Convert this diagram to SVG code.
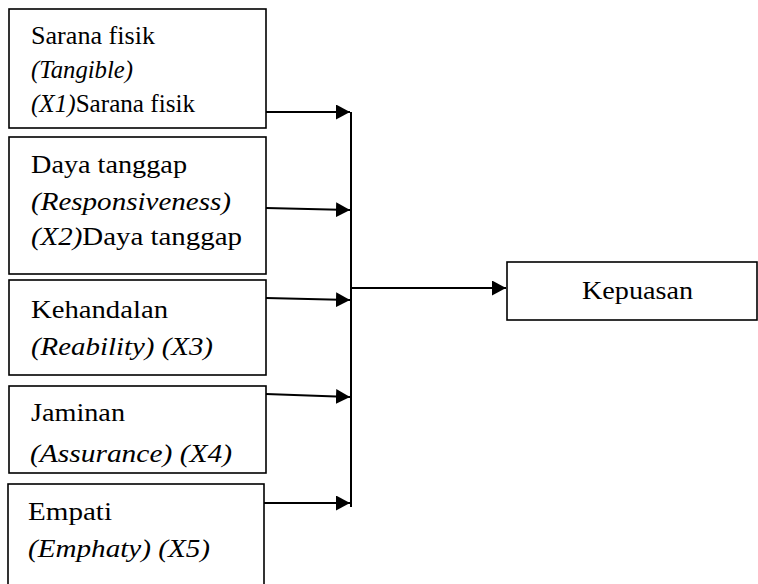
<svg xmlns="http://www.w3.org/2000/svg" width="758" height="584" viewBox="0 0 758 584">
<style>
.box{fill:#fff;stroke:#000;stroke-width:1.6}
text{font-size:25px;fill:#000}
.i{font-style:italic}
.c{stroke:#000;stroke-width:2;fill:none}
</style>
<defs>
<marker id="ah" markerWidth="14" markerHeight="15" refX="14" refY="7.5" orient="auto" markerUnits="userSpaceOnUse">
<path d="M0,0 L14,7.5 L0,15 Z" fill="#000"/>
</marker>
</defs>
<rect width="758" height="584" fill="#fff"/>
<g font-family="Liberation Serif, Times New Roman, serif">
<g id="x1">
<rect class="box" x="9" y="9" width="257" height="119"/>
<text x="31" y="44" textLength="124" lengthAdjust="spacingAndGlyphs">Sarana fisik</text>
<text class="i" x="31" y="78" textLength="102" lengthAdjust="spacingAndGlyphs">(Tangible)</text>
<text x="31" y="112" textLength="164" lengthAdjust="spacingAndGlyphs"><tspan class="i">(X1)</tspan>Sarana fisik</text>
</g>
<g id="x2">
<rect class="box" x="9" y="137" width="257" height="137"/>
<text x="31" y="173" textLength="156" lengthAdjust="spacingAndGlyphs">Daya tanggap</text>
<text class="i" x="31" y="210" textLength="200" lengthAdjust="spacingAndGlyphs">(Responsiveness)</text>
<text x="31" y="245" textLength="211" lengthAdjust="spacingAndGlyphs"><tspan class="i">(X2)</tspan>Daya tanggap</text>
</g>
<g id="x3">
<rect class="box" x="9" y="280" width="257" height="95"/>
<text x="31" y="318" textLength="137" lengthAdjust="spacingAndGlyphs">Kehandalan</text>
<text class="i" x="31" y="355" textLength="182" lengthAdjust="spacingAndGlyphs">(Reability) (X3)</text>
</g>
<g id="x4">
<rect class="box" x="9" y="386" width="257" height="87"/>
<text x="31" y="421" textLength="94" lengthAdjust="spacingAndGlyphs">Jaminan</text>
<text class="i" x="30" y="462" textLength="202" lengthAdjust="spacingAndGlyphs">(Assurance) (X4)</text>
</g>
<g id="x5">
<rect class="box" x="8" y="484" width="256" height="110"/>
<text x="28" y="520" textLength="84" lengthAdjust="spacingAndGlyphs">Empati</text>
<text class="i" x="28" y="557" textLength="182" lengthAdjust="spacingAndGlyphs">(Emphaty) (X5)</text>
</g>
<g id="y">
<rect class="box" x="507" y="262" width="250" height="58"/>
<text x="582" y="299" textLength="111" lengthAdjust="spacingAndGlyphs">Kepuasan</text>
</g>
</g>
<g id="connectors">
<line class="c" x1="351" y1="112" x2="351" y2="507"/>
<line class="c" x1="266" y1="112" x2="350" y2="112" marker-end="url(#ah)"/>
<line class="c" x1="266" y1="208" x2="350" y2="210" marker-end="url(#ah)"/>
<line class="c" x1="266" y1="298" x2="350" y2="300" marker-end="url(#ah)"/>
<line class="c" x1="266" y1="394" x2="350" y2="397" marker-end="url(#ah)"/>
<line class="c" x1="264" y1="503" x2="350" y2="503" marker-end="url(#ah)"/>
<line class="c" x1="351" y1="288" x2="506" y2="288" marker-end="url(#ah)"/>
</g>
</svg>
